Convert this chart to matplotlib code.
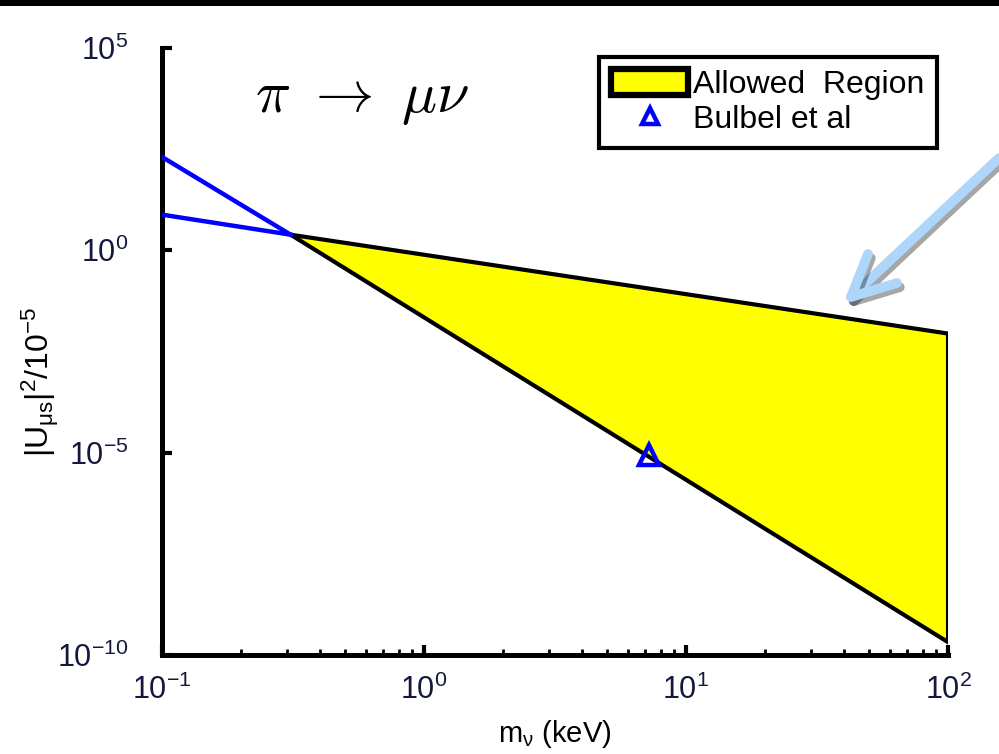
import matplotlib.pyplot as plt
import matplotlib.patheffects as pe
from matplotlib.patches import Rectangle
from matplotlib.lines import Line2D
from matplotlib.ticker import LogLocator, NullFormatter

plt.rcParams['font.family'] = ['Liberation Sans', 'DejaVu Sans']
plt.rcParams['mathtext.fontset'] = 'custom'
plt.rcParams['mathtext.rm'] = 'Liberation Sans'
plt.rcParams['mathtext.it'] = 'Liberation Sans:italic'

# data
m_region = [0.31, 100, 100, 0.31]          # keV, polygon corners
u_region = [2.4, 8.7e-3, 2.1e-10, 2.4]
m_blue = [0.1, 0.31]
u_blue_steep = [200, 2.4]
u_blue_flat = [7.5, 2.4]
m_bulbel = [7.2]
u_bulbel = [8.9e-6]

fig = plt.figure(figsize=(9.99, 7.54), dpi=100)
ax = fig.add_axes([0.162, 0.131, 0.787, 0.806])

ax.fill(m_region, u_region, facecolor='#ffff00', edgecolor='black', lw=3, zorder=2)
ax.plot(m_blue, u_blue_steep, color='#0000ff', lw=3.2, zorder=3)
ax.plot(m_blue, u_blue_flat, color='#0000ff', lw=3.2, zorder=3)
ax.plot(m_bulbel, u_bulbel, linestyle='none', marker='^', ms=14, mfc='none',
        mec='#0000ff', mew=3.2, zorder=4)

ax.set_xscale('log')
ax.set_yscale('log')
ax.set_xlim(0.1, 100)
ax.set_ylim(1e-10, 1e5)
ax.set_xticks([0.1, 1, 10, 100])
ax.set_yticks([1e-10, 1e-5, 1, 1e5])
ax.xaxis.set_minor_locator(LogLocator(base=10, subs=range(2, 10)))
ax.xaxis.set_minor_formatter(NullFormatter())
ax.yaxis.set_minor_locator(LogLocator(base=10, subs=range(1, 10), numticks=40))
ax.yaxis.set_minor_formatter(NullFormatter())

for side in ['top', 'right']:
    ax.spines[side].set_visible(False)
for side in ['left', 'bottom']:
    ax.spines[side].set_linewidth(3.6)
ax.tick_params(which='major', direction='in', length=7, width=3, labelsize=22,
               labelcolor='#14183c')
ax.tick_params(axis='y', which='major', pad=24)
ax.tick_params(axis='x', which='major', pad=14)
ax.tick_params(which='minor', direction='in', length=4, width=2)
ax.tick_params(axis='y', which='minor', length=0)

ax.set_xlabel(r'm$_{\mathregular{\nu}}$ (keV)', fontsize=21, labelpad=9)
ax.set_ylabel(r'|U$_{\mathregular{\mu s}}$|$^{\mathregular{2}}$/10$^{\mathregular{-5}}$',
              fontsize=23)
ax.yaxis.set_label_coords(-0.128, 0.45)

ax.text(0.118, 0.914, r'$\pi\ \rightarrow\ \mu\nu$', transform=ax.transAxes,
        fontsize=42, math_fontfamily='cm', va='center', ha='left')

handles = [Rectangle((0, 0), 1, 1, facecolor='#ffff00', edgecolor='black', lw=4.5),
           Line2D([], [], linestyle='none', marker='^', ms=11, mfc='none',
                  mec='#0000ff', mew=3.2)]
leg = ax.legend(handles, ['Allowed  Region', 'Bulbel et al'], loc='upper right',
                bbox_to_anchor=(0.986, 0.985), fontsize=23, frameon=True,
                fancybox=False, framealpha=1, handlelength=2.4, handleheight=0.85,
                handletextpad=0.15, borderpad=0.4, labelspacing=0.12,
                borderaxespad=0)
leg.get_frame().set_edgecolor('black')
leg.get_frame().set_linewidth(3)

# black band along the top edge
fig.patches.append(Rectangle((0, 0.992), 1, 0.008, transform=fig.transFigure,
                             facecolor='black', edgecolor='none'))

# light blue pointer arrow with a soft drop shadow
shadow = [pe.SimpleLineShadow(offset=(2, -3), shadow_color='black', alpha=0.35),
          pe.Normal()]
arrow_x = [[999, 851], [868, 851, 897]]
arrow_y = [[158, 297], [254, 297, 283]]
for xs, ys in zip(arrow_x, arrow_y):
    fig.add_artist(Line2D([x / 999 for x in xs], [1 - y / 754 for y in ys],
                          transform=fig.transFigure, color='#aed6fb', lw=7,
                          solid_capstyle='round', solid_joinstyle='round',
                          path_effects=shadow))

fig.savefig('out.png', dpi=100)
